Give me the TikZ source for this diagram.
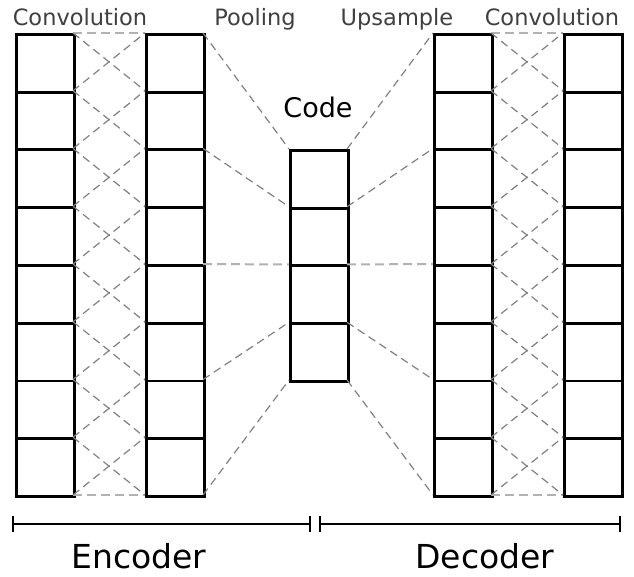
\documentclass[tikz,border=0pt]{standalone}
\usepackage{fontspec}
\setmainfont{DejaVu Sans}
\usetikzlibrary{arrows.meta}

\tikzset{
  cell/.style={draw, line width=2.8pt, minimum width=58pt, minimum height=57.75pt, inner sep=0pt, anchor=north west},
  link/.style={draw=black!50, line width=1.2pt, dash pattern=on 8pt off 5pt},
  flat/.style={draw=black!30, line width=2pt, dash pattern=on 9pt off 5pt},
  caption/.style={text=black!75, font=\fontsize{22.5}{26}\selectfont, anchor=base},
  part/.style={font=\fontsize{33}{38}\selectfont, anchor=base, inner sep=1pt},
  span/.style={line width=2.6pt, {Bar[width=16pt,line width=2pt]}-{Bar[width=16pt,line width=2pt]}},
}

\begin{document}
\begin{tikzpicture}[x=1pt,y=-1pt]
\useasboundingbox (0,0) rectangle (634,577);

% layers: name/left/top/cells
\foreach \c/\x/\t/\n in {ea/15/33/8, eb/145/33/8, co/289/149/4, da/433/33/8, db/563/33/8}{
  \foreach \i in {1,...,\n}
    \node[cell] (\c\i) at (\x,{\t+(\i-1)*57.75}) {};
  \foreach \k in {0,...,\n}{
    \coordinate (\c-l\k) at (\x,{\t+\k*57.75});
    \coordinate (\c-r\k) at ({\x+58},{\t+\k*57.75});
  }
}

% convolution links
\foreach \a/\b in {ea/eb, da/db}{
  \draw[flat] (\a-r0) -- (\b-l0);
  \draw[flat] (\a-r8) -- (\b-l8);
  \foreach \k in {0,...,7}{
    \pgfmathtruncatemacro\j{\k+1}
    \draw[link] (\a-r\k) -- (\b-l\j);
    \draw[link] (\a-r\j) -- (\b-l\k);
  }
}

% pooling and upsampling
\foreach \k in {0,1,3,4}{
  \pgfmathtruncatemacro\j{2*\k}
  \draw[link] (eb-r\j) -- (co-l\k);
  \draw[link] (co-r\k) -- (da-l\j);
}
\draw[flat] (eb-r4) -- (co-l2);
\draw[flat] (co-r2) -- (da-l4);

% labels
\node[caption] (convin) at (80,26) {Convolution};
\node[caption] (pool) at (255,26) {Pooling};
\node[caption] (up) at (397,26) {Upsample};
\node[caption] (convout) at (552,26) {Convolution};
\node[font=\fontsize{27}{32}\selectfont, anchor=base] (code) at (318,118) {Code};

% encoder / decoder spans
\coordinate (enc-a) at (12,524);
\coordinate (enc-b) at (311,524);
\coordinate (dec-a) at (319,524);
\coordinate (dec-b) at (621,524);
\draw[span] (enc-a) -- (enc-b);
\draw[span] (dec-a) -- (dec-b);
\node[part] (enc) at (139,568) {Encoder};
\node[part] (dec) at (485,568) {Decoder};
\end{tikzpicture}
\end{document}
